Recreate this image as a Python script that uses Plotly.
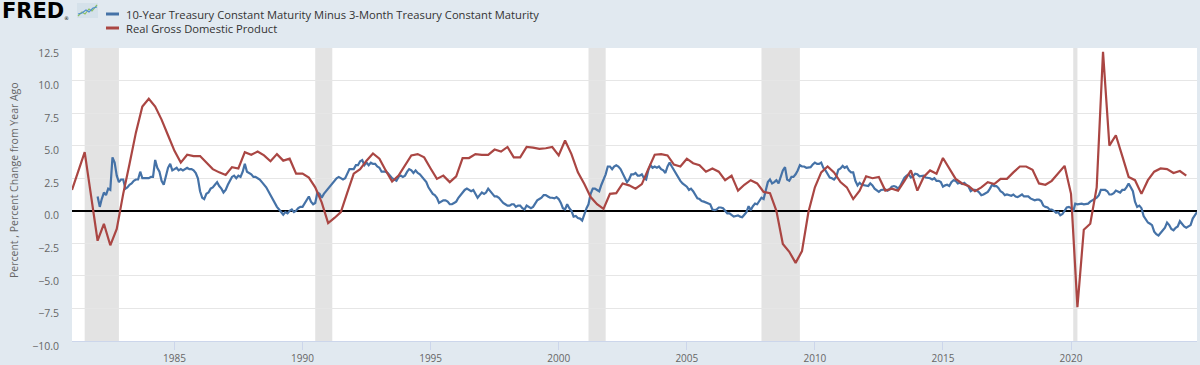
import pandas as pd
import plotly.graph_objects as go

# ---------------- data ----------------
spread_name = "10-Year Treasury Constant Maturity Minus 3-Month Treasury Constant Maturity"
gdp_name = "Real Gross Domestic Product"

spread_start = "1982-01-01"   # monthly
spread_values = [
    1.1, 0.3, 0.9, 1.4, 1.2, 1.7, 1.6, 4.1, 3.7, 2.7, 2.2, 2.4,        # 1982
    2.4, 1.7, 1.8, 2.0, 2.1, 2.3, 2.4, 2.4, 3.0, 2.5, 2.5, 2.5,        # 1983
    2.5, 2.6, 2.6, 3.9, 3.3, 3.0, 2.3, 2.0, 2.6, 3.3, 3.6, 3.1,        # 1984
    3.2, 3.3, 3.1, 3.2, 3.1, 3.2, 3.3, 3.2, 3.2, 3.1, 2.9, 2.5,        # 1985
    1.5, 1.0, 0.9, 1.3, 1.4, 1.7, 1.8, 2.0, 2.2, 1.9, 1.7, 1.4,        # 1986
    1.6, 2.0, 2.3, 2.6, 2.7, 2.5, 2.7, 2.6, 3.0, 3.6, 3.0, 2.9,        # 1987
    2.8, 2.6, 2.6, 2.5, 2.4, 2.2, 2.0, 1.8, 1.5, 1.2, 1.0, 0.7,        # 1988
    0.3, 0.1, -0.1, -0.3, -0.1, -0.2, 0.0, 0.1, -0.1, 0.0, 0.2, 0.3,   # 1989
    0.3, 0.6, 0.8, 1.1, 0.7, 0.5, 0.6, 1.4, 1.3, 1.0, 1.3, 1.5,        # 1990
    1.7, 1.9, 2.1, 2.3, 2.5, 2.6, 2.5, 2.4, 2.5, 2.8, 3.2, 3.2,        # 1991
    3.2, 3.5, 3.5, 3.8, 3.9, 3.5, 3.7, 3.5, 3.7, 3.6, 3.6, 3.4,        # 1992
    3.3, 3.0, 3.0, 3.0, 2.9, 2.7, 2.5, 2.4, 2.3, 2.6, 2.7, 2.6,        # 1993
    2.7, 3.0, 3.2, 3.1, 2.9, 3.1, 2.9, 2.8, 2.6, 2.4, 2.2, 1.8,        # 1994
    1.5, 1.3, 1.2, 1.0, 0.6, 0.7, 0.8, 0.8, 0.7, 0.5, 0.5, 0.6,        # 1995
    0.7, 1.0, 1.2, 1.4, 1.6, 1.7, 1.6, 1.5, 1.6, 1.3, 1.0, 1.2,        # 1996
    1.4, 1.3, 1.4, 1.7, 1.5, 1.3, 1.1, 1.1, 1.0, 0.8, 0.6, 0.5,        # 1997
    0.4, 0.4, 0.5, 0.5, 0.3, 0.4, 0.4, 0.2, 0.1, 0.4, 0.3, 0.2,        # 1998
    0.3, 0.6, 0.8, 0.9, 1.0, 1.2, 1.2, 1.1, 1.0, 1.0, 0.95, 1.05,      # 1999
    0.9, 0.6, 0.2, 0.1, 0.5, 0.2, 0.0, -0.45, -0.4, -0.55, -0.6, -0.75,  # 2000
    -0.2, 0.2, 0.5, 1.3, 1.7, 1.7, 1.6, 1.5, 2.0, 2.4, 2.8, 3.4,       # 2001
    3.4, 3.2, 3.4, 3.5, 3.4, 3.2, 2.9, 2.6, 2.2, 2.4, 2.8, 2.8,        # 2002
    2.9, 2.7, 2.7, 2.8, 2.5, 2.4, 3.1, 3.5, 3.3, 3.4, 3.3, 3.4,        # 2003
    3.2, 3.1, 2.9, 3.4, 3.7, 3.4, 3.1, 2.8, 2.5, 2.3, 2.1, 2.0,        # 2004
    1.85, 1.6, 1.7, 1.5, 1.25, 0.95, 0.9, 0.75, 0.7, 0.65, 0.55, 0.5,  # 2005
    0.1, 0.05, 0.1, 0.25, 0.25, 0.2, 0.0, -0.2, -0.2, -0.3, -0.45, -0.4,  # 2006
    -0.35, -0.45, -0.5, -0.3, -0.1, 0.35, 0.05, 0.35, 0.55, 0.5, 0.8, 1.0,  # 2007
    0.9, 1.6, 2.2, 2.4, 2.1, 2.2, 2.35, 2.1, 2.55, 3.1, 3.35, 2.4,     # 2008
    2.3, 2.6, 2.6, 2.8, 3.1, 3.5, 3.4, 3.4, 3.3, 3.3, 3.35, 3.55,      # 2009
    3.7, 3.6, 3.6, 3.7, 3.3, 3.1, 2.85, 2.55, 2.5, 2.4, 2.6, 3.15,     # 2010
    3.25, 3.45, 3.3, 3.4, 3.1, 2.95, 2.95, 2.3, 1.95, 2.15, 2.0, 1.95,  # 2011
    1.95, 1.9, 2.1, 1.95, 1.7, 1.55, 1.45, 1.6, 1.6, 1.65, 1.55, 1.65,  # 2012
    1.85, 1.9, 1.85, 1.7, 1.9, 2.25, 2.55, 2.7, 2.8, 2.55, 2.65, 2.85,  # 2013
    2.8, 2.65, 2.65, 2.7, 2.55, 2.55, 2.5, 2.4, 2.5, 2.3, 2.3, 2.2,    # 2014
    1.85, 1.95, 2.0, 1.9, 2.2, 2.35, 2.3, 2.1, 2.15, 2.05, 2.15, 2.0,  # 2015
    1.85, 1.5, 1.6, 1.6, 1.55, 1.4, 1.2, 1.25, 1.35, 1.45, 1.7, 2.0,   # 2016
    1.9, 1.9, 1.75, 1.5, 1.4, 1.2, 1.25, 1.2, 1.15, 1.25, 1.1, 1.05,   # 2017
    1.15, 1.25, 1.1, 1.1, 1.1, 0.95, 0.9, 0.8, 0.85, 0.85, 0.75, 0.4,  # 2018
    0.3, 0.25, 0.1, 0.1, 0.0, -0.15, -0.1, -0.35, -0.25, 0.05, 0.25, 0.3,  # 2019
    0.2, -0.05, 0.55, 0.5, 0.55, 0.55, 0.5, 0.55, 0.55, 0.7, 0.8, 0.85,  # 2020
    1.0, 1.2, 1.6, 1.6, 1.6, 1.5, 1.25, 1.25, 1.35, 1.55, 1.5, 1.4,    # 2021
    1.6, 1.6, 1.8, 2.1, 1.8, 1.5, 0.7, 0.3, 0.4, 0.2, -0.4, -0.7,      # 2022
    -0.9, -1.0, -1.1, -1.6, -1.8, -1.9, -1.7, -1.5, -1.3, -0.9, -1.1, -1.4,  # 2023
    -1.5, -1.3, -1.2, -0.8, -1.0, -1.2, -1.3, -1.2, -1.1, -0.6, -0.3, -0.1,  # 2024
]

gdp_start = "1981-01-01"   # quarterly
gdp_values = [
    1.6, 3.05, 4.5, 1.1,      # 1981
    -2.3, -1.0, -2.65, -1.4,  # 1982
    1.3, 3.6, 6.0, 8.0,       # 1983
    8.6, 8.0, 7.0, 5.8,       # 1984
    4.6, 3.7, 4.3, 4.2,       # 1985
    4.2, 3.7, 3.2, 2.95,      # 1986
    2.75, 3.35, 3.25, 4.5,    # 1987
    4.3, 4.55, 4.25, 3.8,     # 1988
    4.35, 3.85, 4.0, 2.85,    # 1989
    2.85, 2.55, 1.8, 0.65,    # 1990
    -0.95, -0.55, -0.1, 1.4,  # 1991
    2.85, 3.2, 3.85, 4.4,     # 1992
    4.0, 3.1, 2.25, 2.7,      # 1993
    3.5, 4.25, 4.35, 4.1,     # 1994
    3.25, 2.45, 2.7, 2.2,     # 1995
    2.65, 4.05, 4.05, 4.35,   # 1996
    4.3, 4.3, 4.7, 4.55,      # 1997
    4.9, 4.1, 4.1, 4.9,       # 1998
    4.85, 4.75, 4.8, 4.9,     # 1999
    4.25, 5.4, 4.35, 2.95,    # 2000
    2.05, 1.05, 0.5, 0.15,    # 2001
    1.3, 1.35, 2.1, 1.95,     # 2002
    1.7, 2.05, 3.2, 4.3,      # 2003
    4.35, 4.25, 3.55, 3.4,    # 2004
    4.0, 3.65, 3.5, 3.0,      # 2005
    3.25, 3.0, 2.35, 2.7,     # 2006
    1.55, 2.0, 2.35, 2.1,     # 2007
    1.45, 1.35, 0.0, -2.55,   # 2008
    -3.15, -4.0, -3.1, -0.1,  # 2009
    1.8, 2.95, 3.4, 2.95,     # 2010
    2.2, 1.8, 0.9, 1.55,      # 2011
    2.65, 2.5, 2.6, 1.55,     # 2012
    1.7, 1.55, 2.3, 3.1,      # 2013
    1.55, 2.6, 3.1, 2.85,     # 2014
    4.05, 3.3, 2.45, 2.1,     # 2015
    1.9, 1.5, 1.8, 2.2,       # 2016
    2.05, 2.45, 2.45, 2.95,   # 2017
    3.4, 3.4, 3.15, 2.1,      # 2018
    2.0, 2.3, 2.9, 3.45,      # 2019
    1.3, -7.4, -1.45, -1.0,   # 2020
    1.8, 12.2, 5.0, 5.8,      # 2021
    4.2, 2.6, 2.35, 1.3,      # 2022
    2.35, 3.0, 3.25, 3.2,     # 2023
    2.9, 3.05, 2.7,           # 2024
]

recession_starts = ["1981-07-01", "1990-07-01", "2001-03-01", "2007-12-01", "2020-02-01"]
recession_ends = ["1982-11-01", "1991-03-01", "2001-11-01", "2009-06-01", "2020-04-01"]

x_range = ["1981-01-01", "2024-12-01"]
x_tick_years = [1985, 1990, 1995, 2000, 2005, 2010, 2015, 2020]
y_ticks = [-10.0, -7.5, -5.0, -2.5, 0.0, 2.5, 5.0, 7.5, 10.0, 12.5]

y_title = "Percent , Percent Change from Year Ago"

# ---------------- styles ----------------
BLUE = "#4572a7"
RED = "#aa4643"
PAGE_BG = "#e1e9f0"
GRID = "#e6e6e6"
RECESSION = "#e3e3e3"
TEXT = "#666666"
FONT = "Open Sans"

W, H = 1200, 365
L, R, T, B = 72, 3, 48, 24
PW, PH = W - L - R, H - T - B


def px(x):
    return (x - L) / PW


def py(y):
    return (H - B - y) / PH


spread_dates = pd.date_range(spread_start, periods=len(spread_values), freq="MS")
gdp_dates = pd.date_range(gdp_start, periods=len(gdp_values), freq="QS")

fig = go.Figure()
fig.add_trace(go.Scatter(x=spread_dates, y=spread_values, mode="lines", name=spread_name,
                         line=dict(color=BLUE, width=2.2), showlegend=False))
fig.add_trace(go.Scatter(x=gdp_dates, y=gdp_values, mode="lines", name=gdp_name,
                         line=dict(color=RED, width=2.2), showlegend=False))

shapes = [
    # page background and white plotting area (robust against page styling)
    dict(type="rect", xref="paper", yref="paper", x0=px(0), x1=px(W), y0=py(H), y1=py(0),
         fillcolor=PAGE_BG, line=dict(width=0), layer="below"),
    dict(type="rect", xref="paper", yref="paper", x0=0, x1=1, y0=0, y1=1,
         fillcolor="#ffffff", line=dict(width=0), layer="below"),
]
for s, e in zip(recession_starts, recession_ends):
    shapes.append(dict(type="rect", xref="x", yref="paper", x0=s, x1=e, y0=0, y1=1,
                       fillcolor=RECESSION, line=dict(width=0), layer="below"))

# legend (manual, FRED style)
legend_rows = [(spread_name, BLUE, 14), (gdp_name, RED, 28)]
annotations = []
for name, col, yy in legend_rows:
    shapes.append(dict(type="line", xref="paper", yref="paper", x0=px(106), x1=px(119),
                       y0=py(yy), y1=py(yy), line=dict(color=col, width=3)))
    annotations.append(dict(text=name, xref="paper", yref="paper", x=px(124), y=py(yy),
                            xanchor="left", yanchor="middle", showarrow=False,
                            font=dict(family=FONT, size=11.2, color="#333333")))

# FRED logo
annotations.append(dict(text="<b>FRED</b>", xref="paper", yref="paper", x=px(0), y=py(11),
                        xanchor="left", yanchor="middle", showarrow=False,
                        font=dict(family="DejaVu Sans", size=21, color="#000000")))
annotations.append(dict(text="®", xref="paper", yref="paper", x=px(62), y=py(18),
                        xanchor="left", yanchor="middle", showarrow=False,
                        font=dict(family="DejaVu Sans", size=5, color="#000000")))
shapes.append(dict(type="rect", xref="paper", yref="paper", x0=px(77), x1=px(98),
                   y0=py(18), y1=py(3), fillcolor="#d5e1ea", line=dict(width=0)))
icon_green = [(78, 16), (82, 12), (85, 14), (89, 9), (92, 11), (97, 5)]
icon_blue = [(78, 14), (82, 13), (86, 10), (89, 12), (93, 8), (97, 7)]
for pts, col in ((icon_green, "#8cc063"), (icon_blue, "#4f8fd0")):
    path = "M " + " L ".join(f"{px(a):.5f},{py(b):.5f}" for a, b in pts)
    shapes.append(dict(type="path", xref="paper", yref="paper", path=path,
                       line=dict(color=col, width=1.2)))

# y axis title
annotations.append(dict(text=y_title, xref="paper", yref="paper", x=px(14), y=py(180),
                        xanchor="center", yanchor="middle", textangle=-90, showarrow=False,
                        font=dict(family=FONT, size=10.5, color=TEXT)))

fig.update_layout(
    template="none",
    width=W, height=H,
    margin=dict(l=L, r=R, t=T, b=B, pad=0, autoexpand=False),
    paper_bgcolor=PAGE_BG,
    plot_bgcolor="#ffffff",
    shapes=shapes,
    annotations=annotations,
    font=dict(family=FONT, size=10, color=TEXT),
    hovermode=False,
)
fig.update_xaxes(
    type="date", range=x_range, automargin=False,
    tickvals=[f"{y}-01-01" for y in x_tick_years],
    ticktext=[str(y) for y in x_tick_years],
    showgrid=False, zeroline=False,
    showline=True, linecolor="#ccd6eb", linewidth=1,
    ticks="outside", ticklen=8, tickcolor="#ccd6eb", tickwidth=1,
    tickfont=dict(family=FONT, size=10, color=TEXT),
)
fig.update_yaxes(
    range=[y_ticks[0], y_ticks[-1]], automargin=False,
    tickvals=y_ticks, tickformat=".1f",
    showgrid=True, gridcolor=GRID, gridwidth=1,
    zeroline=True, zerolinecolor="#000000", zerolinewidth=2,
    showline=False, ticks="",
    ticklabelstandoff=12, ticklabelshift=5,
    tickfont=dict(family=FONT, size=10.5, color=TEXT),
)

fig.write_html(
    "out.html",
    config={"displayModeBar": False},
    post_script="document.body.style.margin='0';document.body.style.background='%s';" % PAGE_BG,
)
